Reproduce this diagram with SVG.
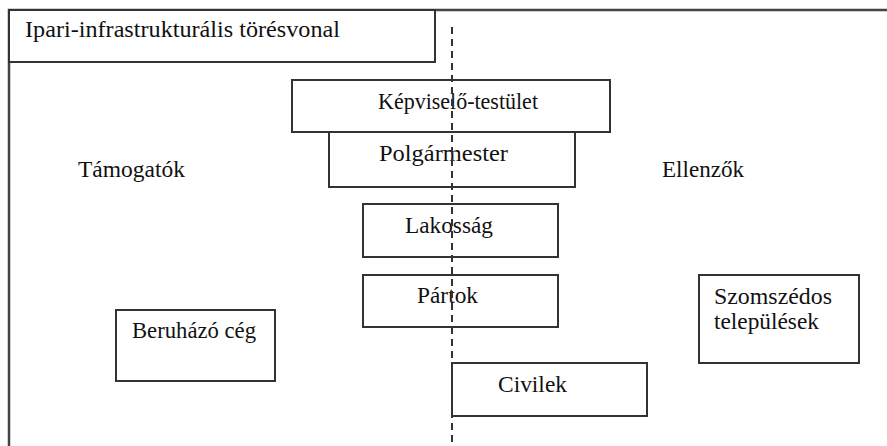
<svg xmlns="http://www.w3.org/2000/svg" width="887" height="446" viewBox="0 0 887 446">
<style>
.box{fill:#fff;stroke:#333;stroke-width:2}
.frame{fill:none;stroke:#444;stroke-width:2.5}
.t{font-family:'Liberation Serif','DejaVu Serif','Times New Roman',serif;font-size:22.5px;fill:#111}
.dash{stroke:#333;stroke-width:2;stroke-dasharray:7,5;fill:none}
</style>
<rect width="887" height="446" fill="#fff"/>
<g id="frame">
<path class="frame" d="M9,446 V10 H887"/>
</g>
<g id="title">
<rect class="box" x="9" y="10" width="426" height="52"/>
<text class="t" x="25" y="37" textLength="315" lengthAdjust="spacingAndGlyphs">Ipari-infrastrukturális törésvonal</text>
</g>
<g id="labels">
<text class="t" x="78" y="177" textLength="107" lengthAdjust="spacingAndGlyphs">Támogatók</text>
<text class="t" x="662" y="177" textLength="82" lengthAdjust="spacingAndGlyphs">Ellenzők</text>
</g>
<g id="kepviselo">
<rect class="box" x="292" y="80" width="318" height="52"/>
<text class="t" x="378" y="109" textLength="160" lengthAdjust="spacingAndGlyphs">Képviselő-testület</text>
</g>
<g id="polgarmester">
<rect class="box" x="329" y="132" width="246" height="55"/>
<text class="t" x="379" y="161" textLength="129" lengthAdjust="spacingAndGlyphs">Polgármester</text>
</g>
<g id="lakossag">
<rect class="box" x="363" y="204" width="195" height="53"/>
<text class="t" x="405" y="233" textLength="88" lengthAdjust="spacingAndGlyphs">Lakosság</text>
</g>
<g id="partok">
<rect class="box" x="363" y="275" width="195" height="52"/>
<text class="t" x="417" y="303" textLength="61" lengthAdjust="spacingAndGlyphs">Pártok</text>
</g>
<g id="civilek">
<rect class="box" x="452" y="363" width="195" height="53"/>
<text class="t" x="498" y="392" textLength="69" lengthAdjust="spacingAndGlyphs">Civilek</text>
</g>
<g id="beruhazo">
<rect class="box" x="116" y="310" width="159" height="71"/>
<text class="t" x="132" y="338" textLength="124" lengthAdjust="spacingAndGlyphs">Beruházó cég</text>
</g>
<g id="szomszedos">
<rect class="box" x="699" y="275" width="160" height="88"/>
<text class="t" x="714" y="304" textLength="118" lengthAdjust="spacingAndGlyphs">Szomszédos</text>
<text class="t" x="714" y="329" textLength="105" lengthAdjust="spacingAndGlyphs">települések</text>
</g>
<g id="connectors">
<line class="dash" x1="452" y1="27" x2="452" y2="446"/>
</g>
</svg>
